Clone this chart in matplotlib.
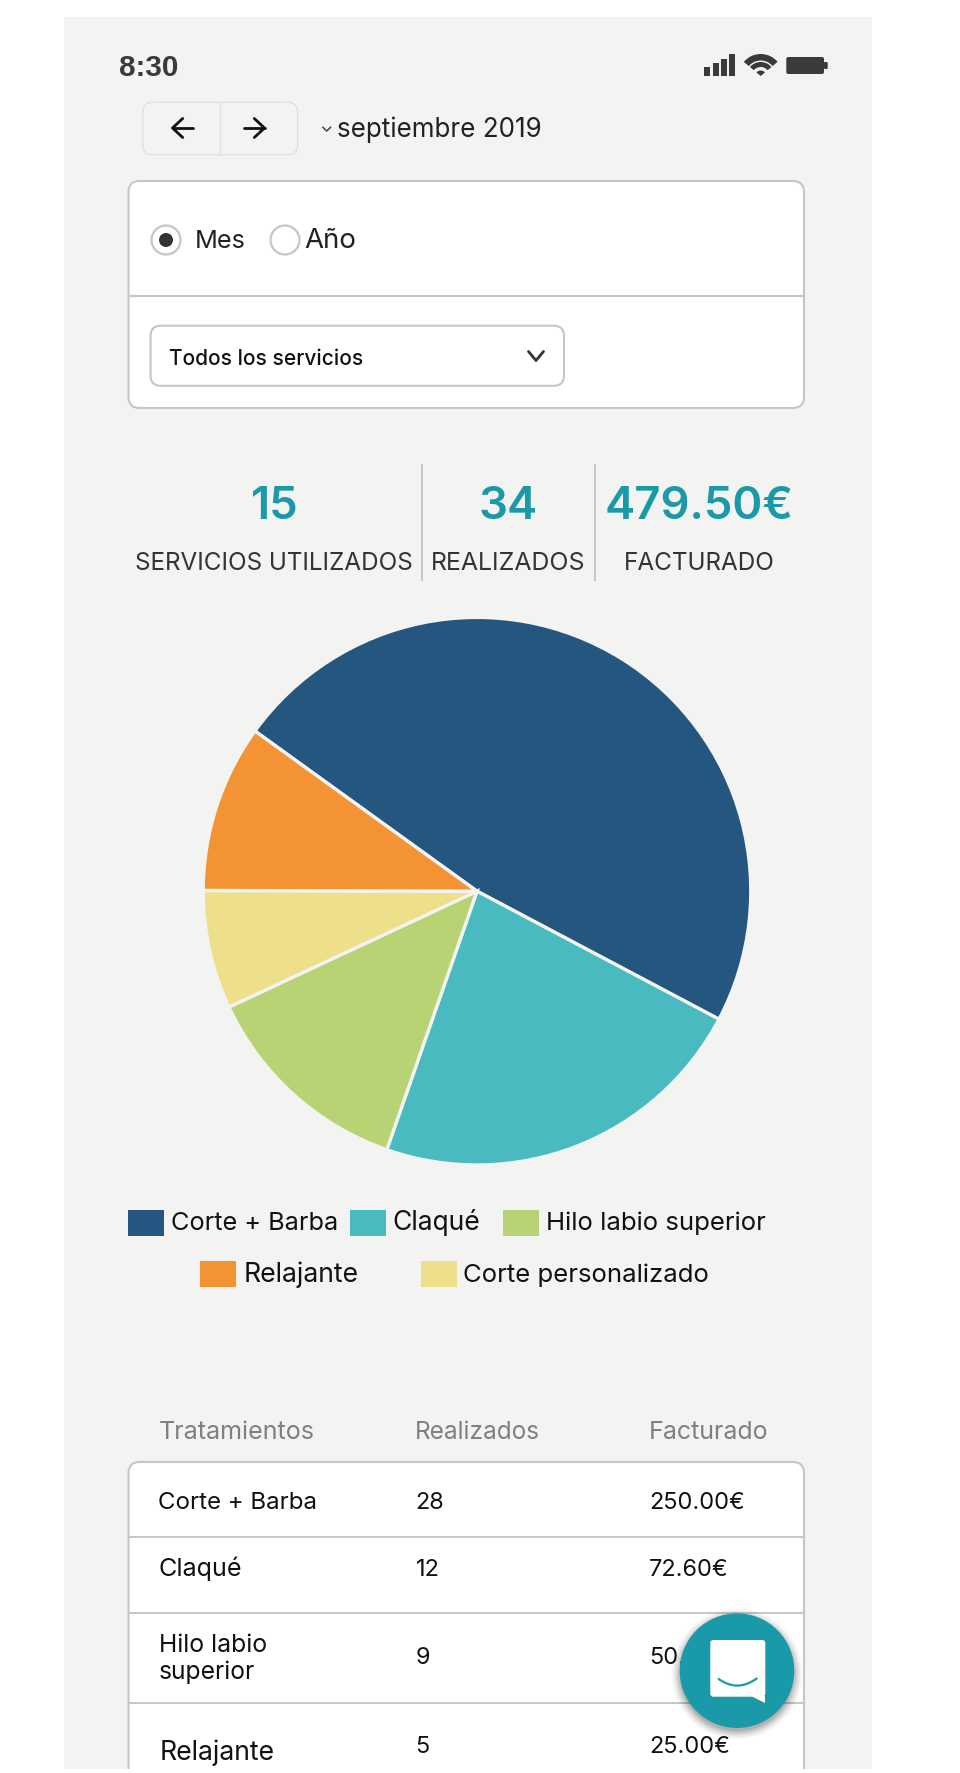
import matplotlib
matplotlib.use("Agg")
import matplotlib.pyplot as plt
from matplotlib.patches import Rectangle, FancyBboxPatch, Circle, Wedge, Polygon, PathPatch
from matplotlib.path import Path

# ---- data ----
services = ["Corte + Barba", "Claqué", "Hilo labio superior", "Relajante", "Corte personalizado"]
shares = [47.8, 22.6, 12.7, 9.9, 7.0]
slice_colors = ["#25567F", "#49BABF", "#B7D373", "#F39333", "#EEE08A"]
clockwise_order = [0, 1, 2, 4, 3]

stat_values = ["15", "34", "479.50€"]
stat_labels = ["SERVICIOS UTILIZADOS", "REALIZADOS", "FACTURADO"]

table_headers = ["Tratamientos", "Realizados", "Facturado"]
table_counts = ["28", "12", "9", "5"]
table_amounts = ["250.00€", "72.60€", "50.00€", "25.00€"]

# ---- canvas ----
FONT = "Inter"
BG = "#F3F3F1"
TEAL = "#1A9AA8"
INK = "#222222"
W, H = 960, 1773
fig = plt.figure(figsize=(W / 100, H / 100), dpi=100, facecolor="white")
ui = fig.add_axes([0, 0, 1, 1])
ui.set_xlim(0, W)
ui.set_ylim(H, 0)
ui.axis("off")
renderer = fig.canvas.get_renderer()


def fit_text(x0, x1, base, s, color=INK, weight="normal", family=FONT, zorder=5):
    t = ui.text(x0 - 0.7, base, s, ha="left", va="baseline", fontsize=10, color=color,
                fontweight=weight, family=family, zorder=zorder)
    w = t.get_window_extent(renderer).width
    t.set_fontsize(10 * (x1 - x0 + 2.2) / w)
    return t


def rbox(x0, y0, x1, y1, r, fc, ec, lw, zorder=2):
    p = FancyBboxPatch((x0 + r, y0 + r), x1 - x0 - 2 * r, y1 - y0 - 2 * r,
                       boxstyle=f"round,pad={r},rounding_size={r}",
                       fc=fc, ec=ec, lw=lw, zorder=zorder)
    ui.add_patch(p)
    return p


panel = Rectangle((64, 17), 808, 1752, fc=BG, ec="none", zorder=0)
ui.add_patch(panel)

# status bar
fit_text(120, 177.5, 76.5, "8:30", color="#3A3A3A", weight="bold", family="Liberation Sans")
for x0, x1, top in [(704.3, 710, 66.7), (712.7, 718.7, 63.3), (721, 726.7, 59), (729.3, 735.3, 54.3)]:
    ui.add_patch(Rectangle((x0, top), x1 - x0, 76 - top, fc="#3A3A3A", ec="none", zorder=3))
for r, wd in [(22, 6.5), (14, 5)]:
    ui.add_patch(Wedge((760.7, 76), r, 220, 320, width=wd, fc="#3A3A3A", ec="none", zorder=3))
ui.add_patch(Wedge((760.7, 76), 5.5, 220, 320, fc="#3A3A3A", ec="none", zorder=3))
rbox(786.3, 57, 824, 74, 2, "#3A3A3A", "none", 0, zorder=3)
rbox(824, 62, 827.7, 69, 1, "#3A3A3A", "none", 0, zorder=3)

# month navigation
rbox(142.7, 102.3, 297.7, 154.7, 10, BG, "#E0E0E0", 1.0)
ui.plot([220.3, 220.3], [102.5, 154.5], color="#E0E0E0", lw=1.0, zorder=3)
ui.plot([172.5, 193], [128, 128], color="#111111", lw=2.0, zorder=3, solid_capstyle="round")
ui.plot([182.7, 172.5, 182.7], [118.5, 128, 137.5], color="#111111", lw=2.0, zorder=3,
        solid_capstyle="round", solid_joinstyle="round")
ui.plot([244.3, 264.5], [128, 128], color="#111111", lw=2.0, zorder=3, solid_capstyle="round")
ui.plot([254.3, 264.5, 254.3], [118.5, 128, 137.5], color="#111111", lw=2.0, zorder=3,
        solid_capstyle="round", solid_joinstyle="round")
ui.plot([322.9, 326.7, 330.5], [127.3, 131, 127.3], color="#444444", lw=1.1, zorder=3)
fit_text(338, 542, 137.4, "septiembre 2019")

# filter card
rbox(128.5, 181, 804, 408, 11, "white", "#C6C6C6", 1.5)
ui.plot([128.5, 804], [296, 296], color="#C6C6C6", lw=1.5, zorder=3)
ui.add_patch(Circle((166, 240), 14.5, fc="white", ec="#C6C6C6", lw=1.6, zorder=3))
ui.add_patch(Circle((166, 240), 7, fc="#333333", ec="none", zorder=4))
ui.add_patch(Circle((285, 240), 14.5, fc="white", ec="#C6C6C6", lw=1.6, zorder=3))
fit_text(195, 244, 247.7, "Mes")
fit_text(305, 355, 247.7, "Año")
rbox(150.6, 325.7, 564, 385.8, 10, "white", "#C6C6C6", 1.5, zorder=3)
fit_text(169.6, 361, 364.7, "Todos los servicios", color="#111111", weight="medium")
ui.plot([528.5, 536, 543.5], [351.5, 360.5, 351.5], color="#333333", lw=2.0, zorder=5,
        solid_capstyle="round")

# headline numbers
for x in (422, 594.6):
    ui.plot([x, x], [465, 580], color="#C6C6C6", lw=1.4, zorder=3)
stat_big = fit_text(605, 793, 518.8, stat_values[2], color=TEAL, weight="semibold")
for s, xc in zip(stat_values[:2], (274.5, 507.8)):
    ui.text(xc, 518.8, s, ha="center", va="baseline", fontsize=stat_big.get_fontsize(),
            color=TEAL, fontweight="semibold", family=FONT, zorder=5)
for s, (x0, x1) in zip(stat_labels, [(136, 412), (431.7, 585), (624.6, 773.4)]):
    fit_text(x0, x1, 569.8, s, color="#333333")

# pie
cx, cy, rad = 477, 891.2, 273.8
pie_ax = fig.add_axes([(cx - rad) / W, 1 - (cy + rad) / H, 2 * rad / W, 2 * rad / H])
pie_ax.pie([shares[i] for i in clockwise_order],
           colors=[slice_colors[i] for i in clockwise_order],
           startangle=144.2, counterclock=False, radius=1,
           wedgeprops=dict(edgecolor=BG, linewidth=2.4))
pie_ax.set_xlim(-1, 1)
pie_ax.set_ylim(-1, 1)
pie_ax.patch.set_visible(False)

# legend
legend_slots = [(128, 164, 171.5, 337.4, 1210, 1230.4),
                (350, 386, 393, 479, 1210, 1230.4),
                (503, 539, 547, 767, 1210, 1230.4),
                (200, 236, 244, 358, 1261, 1282),
                (421, 457, 464, 709, 1261, 1282)]
for s, c, (sx0, sx1, tx0, tx1, sy, base) in zip(services, slice_colors, legend_slots):
    ui.add_patch(Rectangle((sx0, sy), sx1 - sx0, 26, fc=c, ec="none", zorder=3))
    fit_text(tx0, tx1, base, s, color="#111111")

# table
for s, (x0, x1) in zip(table_headers, [(159, 313.5), (416, 539.5), (649, 767)]):
    fit_text(x0, x1, 1438.8, s, color="#808080")
card = rbox(128.5, 1462, 804, 1840, 11, "white", "#C6C6C6", 1.5)
card.set_clip_path(panel)
for y in (1537, 1613, 1703.4):
    ui.plot([128.5, 804], [y, y], color="#C6C6C6", lw=1.4, zorder=3)

name_slots = [(159, 316.6, 1509), (159, 240.7, 1576.3), (159.8, 267, 1652.4), (160, 274, 1760)]
names = [services[0], services[1], "Hilo labio", services[3]]
for s, (x0, x1, b) in zip(names, name_slots):
    fit_text(x0, x1, b, s, color="#111111")
fit_text(159, 254, 1679.5, "superior", color="#111111")

row_bases = [1509, 1576.3, 1663.6, 1753]
first_amount = fit_text(650, 744.6, row_bases[0], table_amounts[0], color="#111111")
row_size = first_amount.get_fontsize()
for s, b in zip(table_amounts[1:], row_bases[1:]):
    ui.text(649.3, b, s, ha="left", va="baseline", fontsize=row_size, color="#111111", family=FONT, zorder=5)
for s, b in zip(table_counts, row_bases):
    ui.text(415.5, b, s, ha="left", va="baseline", fontsize=row_size, color="#111111", family=FONT, zorder=5)

# chat button
for grow, a in [(8, 0.03), (6, 0.05), (4, 0.07), (2, 0.09), (0, 0.10)]:
    ui.add_patch(Circle((737, 1674), 57.3 + grow, fc="black", alpha=a, ec="none", zorder=7))
ui.add_patch(Circle((737, 1670.7), 57.3, fc=TEAL, ec="none", zorder=8))
rbox(710.3, 1640, 765.3, 1696.7, 3, "white", "none", 0, zorder=9)
ui.add_patch(Polygon([(750.7, 1696), (765.3, 1696), (765.3, 1702.7)], fc="white", ec="none", zorder=9))
smile = Path([(718.7, 1679), (737.5, 1692.5), (756.7, 1678.5)], [Path.MOVETO, Path.CURVE3, Path.CURVE3])
ui.add_patch(PathPatch(smile, fc="none", ec=TEAL, lw=1.6, zorder=10, capstyle="round"))

fig.savefig("out.png", dpi=100, facecolor="white")
